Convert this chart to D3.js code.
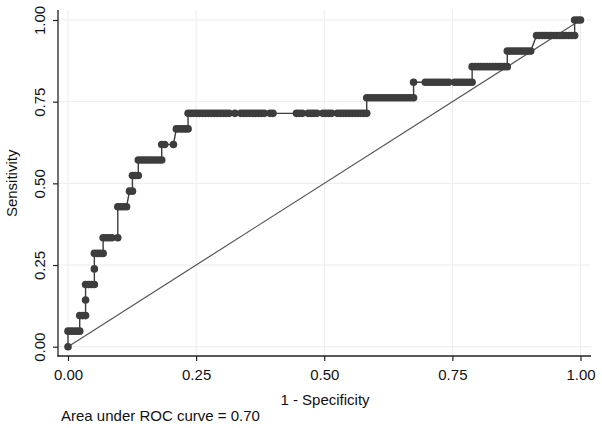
<!DOCTYPE html>
<html><head><meta charset="utf-8">
<script src="https://cdn.jsdelivr.net/npm/d3@7"></script>
<style>
html,body{margin:0;padding:0;background:#fff;}
svg{display:block;font-family:"Liberation Sans",Arial,sans-serif;}
</style></head>
<body><svg id="c" width="602" height="428"></svg>
<script>
// Data: ROC points as false-positive counts at each true-positive level (0..21)
const negatives = 175;
const positives = 21;
const fpByLevel = [
  [0],
  [0,1,2,3,4],
  [4,5,6],
  [6],
  [6,7,8,9],
  [9],
  [9,10,11,12],
  [12,13,14,15,17],
  [],
  [17,18,19,20],
  [21,22],
  [22,23,24],
  [24,25,26,27,28,29,30,31,32],
  [32,33,36],
  [37,38,39,40,41],
  [41,42,43,44,45,46,47,48,49,50,51,52,53,54,55,57,59,60,61,62,63,64,65,66,67,69,70,78,79,80,82,83,84,85,87,88,89,90,92,93,94,95,96,97,98,99,100,101,102],
  [102,103,104,105,106,107,108,109,110,111,112,113,114,115,116,117,118],
  [118,122,123,124,125,126,127,128,129,130,132,133,134,135,136,137,138],
  [138,139,140,141,142,143,144,145,146,147,148,149,150],
  [150,151,152,153,154,155,156,157,158],
  [160,161,162,163,164,165,166,167,168,169,170,171,172,173],
  [173,174,175]
];
const tickValues = [0, 0.25, 0.5, 0.75, 1];
const xTitle = "1 - Specificity";
const yTitle = "Sensitivity";
const note = "Area under ROC curve = 0.70";

const points = [];
fpByLevel.forEach((fps, k) => fps.forEach(fp => points.push([fp / negatives, k / positives])));

const svg = d3.select("#c");
const region = {left: 58, right: 591, top: 10, bottom: 356};
const x = d3.scaleLinear().domain([0, 1]).range([68, 580.5]);
const y = d3.scaleLinear().domain([0, 1]).range([346.7, 20]);
const fs = 15;

// gridlines
const grid = svg.append("g").attr("stroke", "#ececec").attr("stroke-width", 1);
tickValues.forEach(v => {
  grid.append("line").attr("x1", region.left).attr("x2", region.right)
    .attr("y1", y(v)).attr("y2", y(v));
  grid.append("line").attr("y1", region.top).attr("y2", region.bottom)
    .attr("x1", x(v)).attr("x2", x(v));
});

// axes
const fmt = d3.format(".2f");
const yAxis = svg.append("g").attr("transform", `translate(${region.left},0)`)
  .call(d3.axisLeft(y).tickValues(tickValues).tickFormat(fmt).tickSize(5).tickSizeOuter(0));
yAxis.select(".domain").remove();
yAxis.selectAll(".tick line").attr("stroke", "#222").attr("stroke-width", 1.2);
yAxis.selectAll(".tick text")
  .attr("font-size", fs).attr("fill", "#111")
  .attr("x", null).attr("dy", null)
  .attr("text-anchor", "middle")
  .attr("transform", "translate(-13,0) rotate(-90)")
  .attr("y", 0);

const xAxis = svg.append("g").attr("transform", `translate(0,${region.bottom})`)
  .call(d3.axisBottom(x).tickValues(tickValues).tickFormat(fmt).tickSize(5).tickSizeOuter(0));
xAxis.select(".domain").remove();
xAxis.selectAll(".tick line").attr("stroke", "#222").attr("stroke-width", 1.2);
xAxis.selectAll(".tick text").attr("font-size", fs).attr("fill", "#111")
  .attr("dy", null).attr("y", 24);

svg.append("line").attr("x1", region.left).attr("x2", region.left)
  .attr("y1", region.top).attr("y2", region.bottom + 0.6)
  .attr("stroke", "#222").attr("stroke-width", 1.3);
svg.append("line").attr("x1", region.left - 0.6).attr("x2", region.right)
  .attr("y1", region.bottom).attr("y2", region.bottom)
  .attr("stroke", "#222").attr("stroke-width", 1.3);

// reference diagonal
svg.append("line").attr("x1", x(0)).attr("y1", y(0)).attr("x2", x(1)).attr("y2", y(1))
  .attr("stroke", "#555").attr("stroke-width", 1.2);

// ROC curve
svg.append("path").datum(points)
  .attr("d", d3.line().x(d => x(d[0])).y(d => y(d[1])))
  .attr("fill", "none").attr("stroke", "#3d3d3d").attr("stroke-width", 1.4);
svg.append("g").selectAll("circle").data(points).join("circle")
  .attr("cx", d => x(d[0])).attr("cy", d => y(d[1])).attr("r", 3.8)
  .attr("fill", "#3d3d3d");

// titles
svg.append("text").attr("x", (region.left + region.right) / 2 + 0.5).attr("y", 405)
  .attr("text-anchor", "middle").attr("font-size", fs).attr("fill", "#111").text(xTitle);
svg.append("text").attr("transform", `translate(17,${(y(0) + y(1)) / 2}) rotate(-90)`)
  .attr("text-anchor", "middle").attr("font-size", fs).attr("fill", "#111").text(yTitle);
svg.append("text").attr("x", 61).attr("y", 421)
  .attr("font-size", fs).attr("fill", "#111").text(note);
</script></body></html>
